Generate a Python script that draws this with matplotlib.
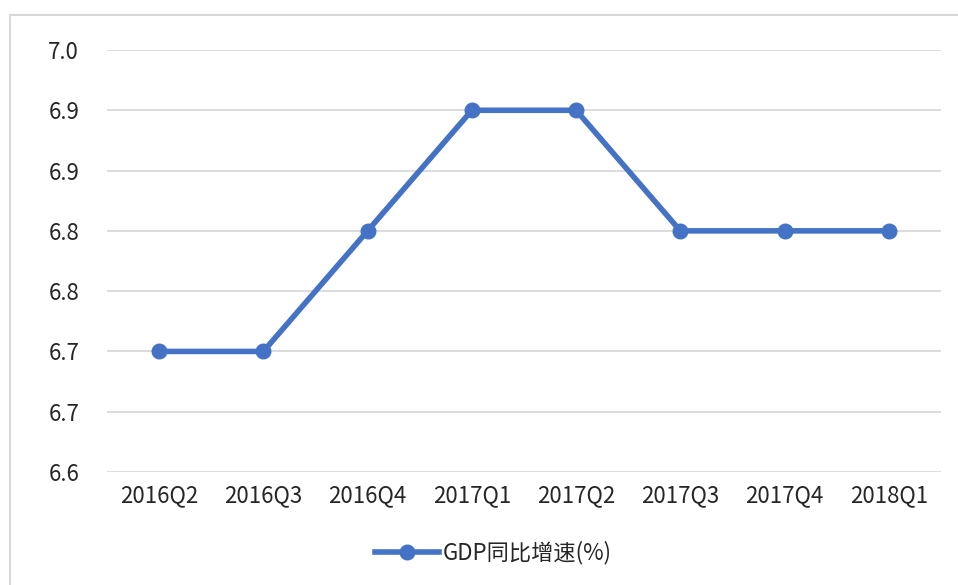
import matplotlib.pyplot as plt
from matplotlib.patches import Rectangle

plt.rcParams['font.family'] = ['Noto Sans CJK SC', 'DejaVu Sans']

# quarters and GDP year-on-year growth (%)
quarters = ["2016Q2", "2016Q3", "2016Q4", "2017Q1", "2017Q2", "2017Q3", "2017Q4", "2018Q1"]
gdp_growth = [6.7, 6.7, 6.8, 6.9, 6.9, 6.8, 6.8, 6.8]

# axis ticks as the source chart labels them (one decimal, rounded)
y_ticks = [6.60, 6.65, 6.70, 6.75, 6.80, 6.85, 6.90, 6.95]
y_labels = ["6.6", "6.7", "6.7", "6.8", "6.8", "6.9", "6.9", "7.0"]

blue = "#4472C4"
grid_grey = "#D9D9D9"
text_col = "#262626"
fs = 16

fig = plt.figure(figsize=(9.58, 5.85), dpi=100)
ax = fig.add_axes([107 / 958, 113 / 585, 834 / 958, 422 / 585])

x = list(range(len(quarters)))
ax.plot(x, gdp_growth, color=blue, linewidth=4, marker="o", markersize=10.5,
        label="GDP同比增速(%)", zorder=3, clip_on=False)

ax.set_xlim(-0.5, len(quarters) - 0.5)
ax.set_ylim(y_ticks[0], y_ticks[-1])
ax.set_yticks(y_ticks)
ax.set_yticklabels(y_labels)
ax.set_xticks(x)
ax.set_xticklabels(quarters)
ax.tick_params(length=0, labelsize=fs, colors=text_col)
ax.tick_params(axis="y", pad=20)
ax.tick_params(axis="x", pad=9)
ax.grid(axis="y", color=grid_grey, linewidth=1.3)
for s in ax.spines.values():
    s.set_visible(False)

leg = fig.legend(loc="center", bbox_to_anchor=(493 / 958, 1 - 553 / 585), frameon=False,
                 fontsize=fs, handlelength=2.9, handletextpad=0.15)
for t in leg.get_texts():
    t.set_color(text_col)

# outer chart border (cropped on the right and bottom)
fig.patches.append(Rectangle((10 / 958, -0.1), 1.1, 1 - 15 / 585 + 0.1,
                             transform=fig.transFigure, fill=False,
                             edgecolor=grid_grey, linewidth=1.5))

fig.savefig("out.png", dpi=100)
